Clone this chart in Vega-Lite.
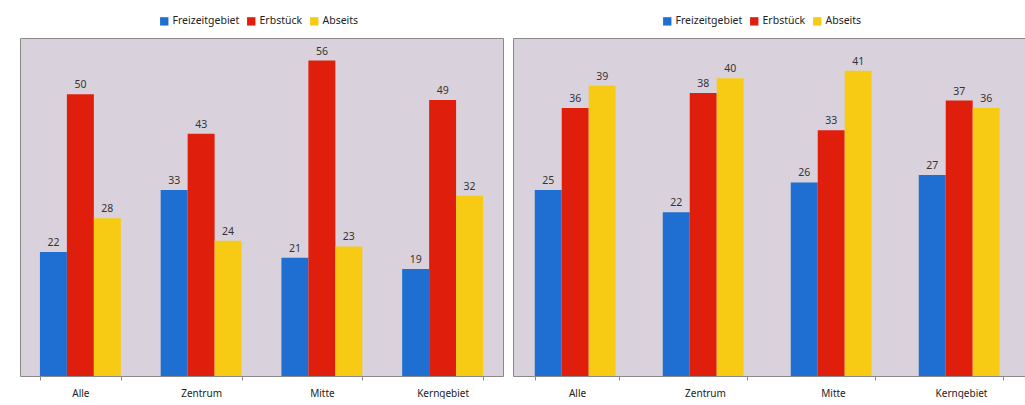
{
  "$schema": "https://vega.github.io/schema/vega-lite/v6.json",
  "background": "#ffffff",
  "padding": {"left": 19, "top": 15, "right": 0, "bottom": 0},
  "autosize": {"type": "pad"},
  "datasets": {
    "left": [
      {"bereich": "Alle", "serie": "Freizeitgebiet", "wert": 22},
      {"bereich": "Alle", "serie": "Erbstück", "wert": 50},
      {"bereich": "Alle", "serie": "Abseits", "wert": 28},
      {"bereich": "Zentrum", "serie": "Freizeitgebiet", "wert": 33},
      {"bereich": "Zentrum", "serie": "Erbstück", "wert": 43},
      {"bereich": "Zentrum", "serie": "Abseits", "wert": 24},
      {"bereich": "Mitte", "serie": "Freizeitgebiet", "wert": 21},
      {"bereich": "Mitte", "serie": "Erbstück", "wert": 56},
      {"bereich": "Mitte", "serie": "Abseits", "wert": 23},
      {"bereich": "Kerngebiet", "serie": "Freizeitgebiet", "wert": 19},
      {"bereich": "Kerngebiet", "serie": "Erbstück", "wert": 49},
      {"bereich": "Kerngebiet", "serie": "Abseits", "wert": 32}
    ],
    "right": [
      {"bereich": "Alle", "serie": "Freizeitgebiet", "wert": 25},
      {"bereich": "Alle", "serie": "Erbstück", "wert": 36},
      {"bereich": "Alle", "serie": "Abseits", "wert": 39},
      {"bereich": "Zentrum", "serie": "Freizeitgebiet", "wert": 22},
      {"bereich": "Zentrum", "serie": "Erbstück", "wert": 38},
      {"bereich": "Zentrum", "serie": "Abseits", "wert": 40},
      {"bereich": "Mitte", "serie": "Freizeitgebiet", "wert": 26},
      {"bereich": "Mitte", "serie": "Erbstück", "wert": 33},
      {"bereich": "Mitte", "serie": "Abseits", "wert": 41},
      {"bereich": "Kerngebiet", "serie": "Freizeitgebiet", "wert": 27},
      {"bereich": "Kerngebiet", "serie": "Erbstück", "wert": 37},
      {"bereich": "Kerngebiet", "serie": "Abseits", "wert": 36}
    ]
  },
  "spacing": 8,
  "hconcat": [
    {
      "width": 483,
      "height": 338,
      "data": {"name": "left"},
      "encoding": {
        "x": {"field": "bereich", "type": "nominal", "sort": ["Alle", "Zentrum", "Mitte", "Kerngebiet"], "scale": {"paddingInner": 0.33, "paddingOuter": 0.165}, "title": null},
        "xOffset": {"field": "serie", "type": "nominal", "sort": ["Freizeitgebiet", "Erbstück", "Abseits"], "scale": {"paddingInner": 0, "paddingOuter": 0}},
        "y": {"field": "wert", "type": "quantitative", "scale": {"domain": [0, 60], "nice": false}, "axis": null}
      },
      "layer": [
        {
          "mark": {"type": "bar"},
          "encoding": {
            "color": {"field": "serie", "type": "nominal", "sort": ["Freizeitgebiet", "Erbstück", "Abseits"],
              "scale": {"domain": ["Freizeitgebiet", "Erbstück", "Abseits"], "range": ["#1f6fd2", "#e01e0c", "#f7cb14"]},
              "legend": {"orient": "none", "legendX": 139, "legendY": -22, "direction": "horizontal", "title": null}}
          }
        },
        {
          "mark": {"type": "text", "dy": -9, "fontSize": 10.5, "color": "#333333", "font": "Noto Sans"},
          "encoding": {"text": {"field": "wert", "type": "quantitative"}}
        }
      ]
    },
    {
      "width": 512,
      "height": 338,
      "data": {"name": "right"},
      "encoding": {
        "x": {"field": "bereich", "type": "nominal", "sort": ["Alle", "Zentrum", "Mitte", "Kerngebiet"], "scale": {"paddingInner": 0.34, "paddingOuter": 0.17}, "title": null},
        "xOffset": {"field": "serie", "type": "nominal", "sort": ["Freizeitgebiet", "Erbstück", "Abseits"], "scale": {"paddingInner": 0, "paddingOuter": 0}},
        "y": {"field": "wert", "type": "quantitative", "scale": {"domain": [0, 45.4], "nice": false}, "axis": null}
      },
      "layer": [
        {
          "mark": {"type": "bar"},
          "encoding": {
            "color": {"field": "serie", "type": "nominal", "sort": ["Freizeitgebiet", "Erbstück", "Abseits"],
              "scale": {"domain": ["Freizeitgebiet", "Erbstück", "Abseits"], "range": ["#1f6fd2", "#e01e0c", "#f7cb14"]},
              "legend": {"orient": "none", "legendX": 149, "legendY": -22, "direction": "horizontal", "title": null}}
          }
        },
        {
          "mark": {"type": "text", "dy": -9, "fontSize": 10.5, "color": "#333333", "font": "Noto Sans"},
          "encoding": {"text": {"field": "wert", "type": "quantitative"}}
        }
      ]
    }
  ],
  "resolve": {"scale": {"y": "independent", "x": "independent", "color": "independent"}, "legend": {"color": "independent"}},
  "config": {
    "font": "Noto Sans",
    "view": {"fill": "#d9d2dc", "stroke": "#8a8a8a", "strokeWidth": 1},
    "axisX": {
      "labelAngle": 0,
      "labelFont": "Noto Sans",
      "labelFontSize": 10,
      "labelColor": "#222222",
      "labelPadding": 8,
      "domain": false,
      "tickBand": "extent",
      "tickSize": 4,
      "tickColor": "#8a8a8a",
      "grid": false
    },
    "legend": {
      "symbolType": "square",
      "symbolSize": 70,
      "symbolStrokeWidth": 0,
      "labelFont": "Noto Sans",
      "labelFontSize": 10.5,
      "labelColor": "#222222",
      "columnPadding": 6,
      "symbolOffset": 0,
      "labelOffset": 3
    }
  }
}
